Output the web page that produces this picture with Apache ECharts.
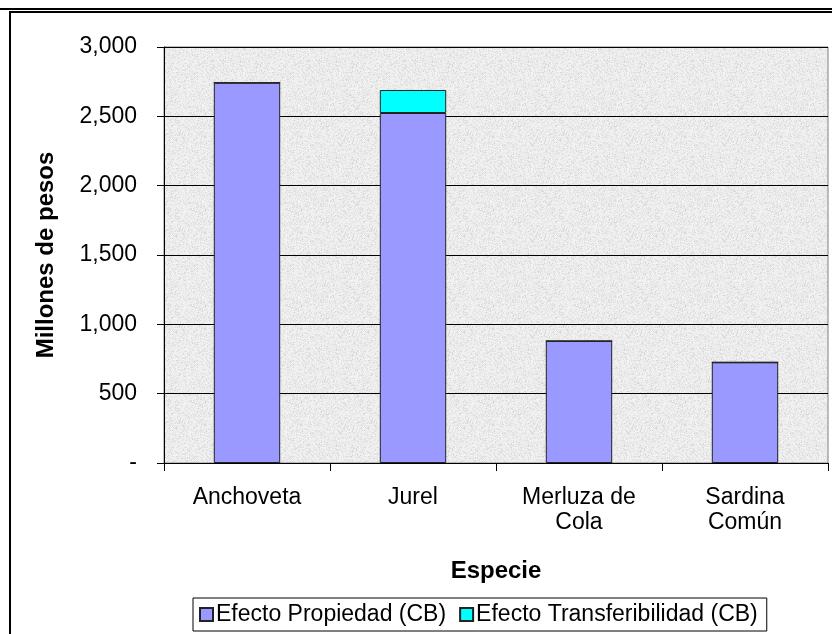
<!DOCTYPE html>
<html>
<head>
<meta charset="utf-8">
<script src="https://cdn.jsdelivr.net/npm/echarts@6/dist/echarts.min.js"></script>
<style>
html,body{margin:0;padding:0;background:#fff;}
#chart{width:832px;height:634px;}
</style>
</head>
<body>
<div id="chart"></div>
<script>
var categories = ['Anchoveta', 'Jurel', 'Merluza de\nCola', 'Sardina\nComún'];
var efectoPropiedad = [2742, 2524, 880, 726];
var efectoTransferibilidad = [0, 166, 0, 0];
var seriesNames = ['Efecto Propiedad (CB)', 'Efecto Transferibilidad (CB)'];
var yTicks = [0, 500, 1000, 1500, 2000, 2500, 3000];

// speckled background texture (decoration only)
var tex = document.createElement('canvas');
tex.width = 96; tex.height = 96;
var tctx = tex.getContext('2d');
var img = tctx.createImageData(96, 96);
var s = 12345;
function rnd(){ s = (s * 1103515245 + 12345) & 0x7fffffff; return s / 0x7fffffff; }
for (var i = 0; i < 96 * 96; i++) {
  var v = 243 - Math.floor(rnd() * rnd() * 36);
  img.data[i*4] = v; img.data[i*4+1] = v; img.data[i*4+2] = v; img.data[i*4+3] = 255;
}
tctx.putImageData(img, 0, 0);

var FONT = 'Liberation Sans, Arial, sans-serif';
var chart = echarts.init(document.getElementById('chart'), null, {renderer: 'canvas'});
chart.setOption({
  animation: false,
  backgroundColor: '#fff',
  textStyle: {fontFamily: FONT},
  grid: {
    left: 164, right: 4, top: 47, bottom: 171,
    show: true,
    backgroundColor: {image: tex, repeat: 'repeat'},
    borderColor: '#808080', borderWidth: 1
  },
  graphic: [
    {type: 'rect', shape: {x: 0, y: 8, width: 832, height: 2}, style: {fill: '#000'}},
    {type: 'rect', shape: {x: 9, y: 11, width: 823, height: 2}, style: {fill: '#000'}},
    {type: 'rect', shape: {x: 9, y: 11, width: 2, height: 623}, style: {fill: '#000'}}
  ],
  legend: {
    data: seriesNames,
    left: 193, top: 598,
    padding: [5, 9, 5, 6],
    itemGap: 13,
    itemWidth: 13, itemHeight: 13,
    borderColor: '#000', borderWidth: 1,
    icon: 'rect',
    textStyle: {fontSize: 23, color: '#000', fontFamily: FONT, padding: [0, 0, 0, -2]}
  },
  xAxis: {
    type: 'category',
    data: categories,
    name: 'Especie',
    nameLocation: 'middle',
    nameGap: 96,
    nameTextStyle: {fontSize: 24, fontWeight: 'bold', color: '#000', fontFamily: FONT},
    axisLine: {lineStyle: {color: '#000', width: 1}},
    axisTick: {show: true, length: 8, lineStyle: {color: '#000'}},
    axisLabel: {fontSize: 23, color: '#000', margin: 22, lineHeight: 25, fontFamily: FONT}
  },
  yAxis: {
    type: 'value',
    min: 0, max: 3000, interval: 500,
    name: 'Millones de pesos',
    nameLocation: 'middle',
    nameGap: 106,
    nameTextStyle: {fontSize: 24, fontWeight: 'bold', color: '#000', fontFamily: FONT},
    axisLine: {show: true, lineStyle: {color: '#000', width: 1}},
    axisTick: {show: true, length: 7, lineStyle: {color: '#000'}},
    splitLine: {show: true, lineStyle: {color: '#000', width: 1}},
    axisLabel: {
      fontSize: 23, color: '#000', margin: 27, fontFamily: FONT,
      formatter: function (v) {
        if (yTicks.indexOf(v) < 0) return '';
        return v === 0 ? '-' : v.toLocaleString('en-US');
      }
    }
  },
  series: [
    {
      name: seriesNames[0], type: 'bar', stack: 'total',
      data: efectoPropiedad, barWidth: '40%',
      itemStyle: {color: '#9999FF', borderColor: '#222', borderWidth: 1}
    },
    {
      name: seriesNames[1], type: 'bar', stack: 'total',
      data: efectoTransferibilidad, barWidth: '40%',
      itemStyle: {color: '#00FFFF', borderColor: '#222', borderWidth: 1}
    }
  ]
});
</script>
</body>
</html>
